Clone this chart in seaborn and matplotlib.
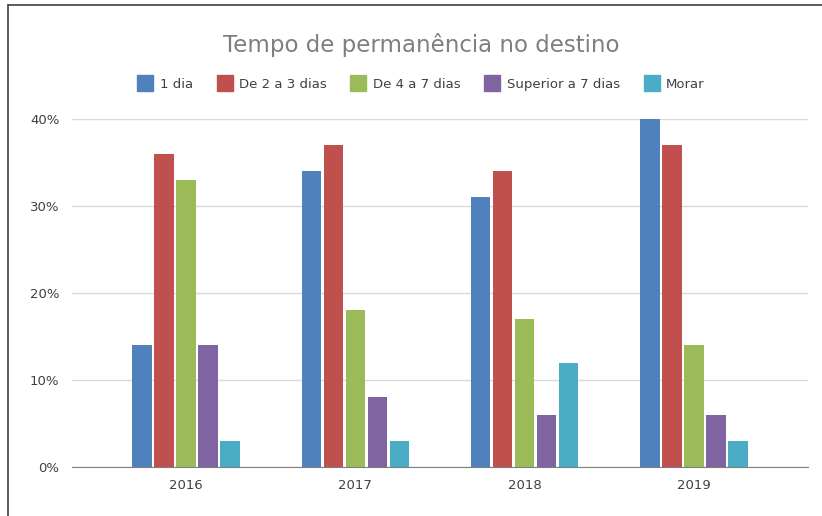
import matplotlib.pyplot as plt
import matplotlib.lines as mlines
import pandas as pd
import seaborn as sb
from matplotlib.ticker import PercentFormatter

years = ['2016', '2017', '2018', '2019']
series = ['1 dia', 'De 2 a 3 dias', 'De 4 a 7 dias', 'Superior a 7 dias', 'Morar']
um_dia = [0.14, 0.34, 0.31, 0.40]
de_2_a_3 = [0.36, 0.37, 0.34, 0.37]
de_4_a_7 = [0.33, 0.18, 0.17, 0.14]
superior_7 = [0.14, 0.08, 0.06, 0.06]
morar = [0.03, 0.03, 0.12, 0.03]
colors = ['#4F81BD', '#C0504D', '#9BBB59', '#8064A2', '#4BACC6']

# long format table for seaborn
rows = []
for name, vals in zip(series, [um_dia, de_2_a_3, de_4_a_7, superior_7, morar]):
    for y, v in zip(years, vals):
        rows.append({'ano': y, 'tipo': name, 'valor': v})
df = pd.DataFrame(rows)

sb.set_style('white')
plt.rcParams['font.family'] = ['DejaVu Sans']

fig = plt.figure(figsize=(8.22, 5.16), dpi=100)
ax = fig.add_axes([0.0876, 0.095, 0.8954, 0.674])

sb.barplot(data=df, x='ano', y='valor', hue='tipo', hue_order=series,
           palette=colors, width=0.65, gap=0.12, saturation=1,
           edgecolor='white', linewidth=0, ax=ax, legend=False)

ax.set_xlim(-0.673, 3.674)
ax.set_ylim(0, 0.4)
ax.set_yticks([0, 0.1, 0.2, 0.3, 0.4])
ax.yaxis.set_major_formatter(PercentFormatter(1.0, decimals=0))
ax.grid(axis='y', color='#D9D9D9', linewidth=1)
ax.set_axisbelow(True)
for s in ['top', 'right', 'left']:
    ax.spines[s].set_visible(False)
ax.spines['bottom'].set_color('#7F7F7F')
ax.tick_params(axis='both', length=0, labelsize=9.5, colors='#404040', pad=9)
ax.set_xlabel('')
ax.set_ylabel('')

fig.text(0.513, 0.912, 'Tempo de permanência no destino', ha='center', va='center',
         fontsize=16.5, color='#7F7F7F')

handles = [mlines.Line2D([], [], marker='s', linestyle='', markersize=11,
                         markerfacecolor=c, markeredgecolor=c) for c in colors]
fig.legend(handles, series, loc='center', bbox_to_anchor=(0.513, 0.837), ncol=5,
           frameon=False, fontsize=9.5, handlelength=1.0, handletextpad=0.6,
           columnspacing=1.9, labelcolor='#404040')

# outer frame line on left and top
fig.add_artist(mlines.Line2D([0.01, 0.01], [0, 0.99], color='#404040', linewidth=1.2,
                             transform=fig.transFigure))
fig.add_artist(mlines.Line2D([0.01, 1.0], [0.99, 0.99], color='#404040', linewidth=1.2,
                             transform=fig.transFigure))

fig.savefig('out.png', dpi=100)
